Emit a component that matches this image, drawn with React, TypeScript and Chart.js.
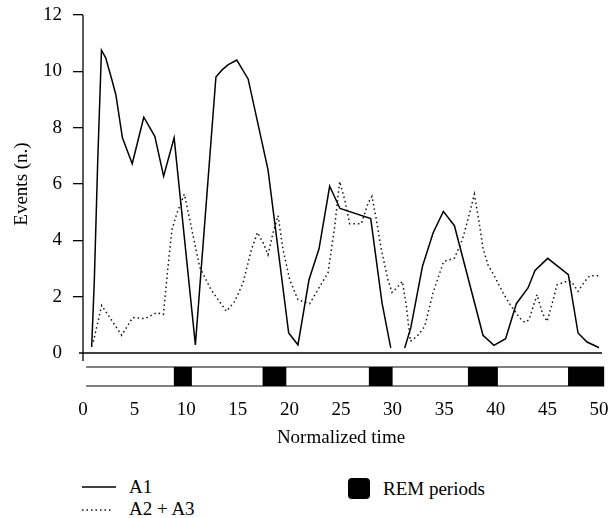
import React, { useEffect, useRef } from "react";
import { Chart, registerables } from "chart.js";

Chart.register(...registerables);

// ---- Data ----
const a1X = [0.84, 1.1, 1.42, 1.79, 2.2, 2.79, 3.18, 3.82, 4.77, 5.89, 6.96, 7.81, 8.83, 10.89, 12.88, 13.5, 14.08, 14.9, 16.0, 17.93, 19.93, 20.83, 21.9, 22.87, 23.9, 24.9, 27.88, 28.98, 29.82, 30.5, 31.17, 31.76, 32.89, 33.92, 34.92, 35.99, 38.76, 39.82, 40.95, 41.99, 43.12, 43.8, 45.03, 47.03, 47.97, 48.84, 50.07];
const a1Y: (number | null)[] = [0.21, 2.6, 6.74, 10.75, 10.48, 9.71, 9.18, 7.64, 6.72, 8.37, 7.69, 6.28, 7.64, 0.29, 9.8, 10.06, 10.24, 10.4, 9.73, 6.5, 0.71, 0.29, 2.6, 3.7, 5.92, 5.13, 4.77, 1.77, 0.18, null, 0.18, 0.89, 3.07, 4.26, 5.03, 4.52, 0.63, 0.27, 0.51, 1.75, 2.31, 2.93, 3.36, 2.78, 0.71, 0.39, 0.18];

const a23X = [1.0, 1.81, 3.75, 4.82, 5.98, 7.14, 7.79, 8.24, 8.62, 9.11, 9.82, 11.31, 12.4, 13.9, 14.7, 15.5, 16.32, 16.9, 17.5, 17.93, 18.41, 18.9, 19.38, 20.03, 20.83, 21.97, 22.94, 23.74, 24.39, 24.87, 25.36, 25.84, 26.97, 27.62, 28.0, 28.43, 28.91, 29.55, 29.94, 30.52, 30.95, 31.34, 31.72, 32.36, 33.11, 33.91, 34.95, 36.0, 36.76, 37.47, 37.92, 38.37, 38.76, 39.24, 39.89, 40.7, 41.51, 42.32, 42.8, 43.22, 43.99, 44.51, 44.96, 45.39, 45.93, 46.84, 47.33, 47.97, 48.61, 49.1, 50.07];
const a23Y = [0.4, 1.69, 0.63, 1.26, 1.22, 1.43, 1.37, 3.07, 4.38, 4.97, 5.64, 3.05, 2.25, 1.48, 1.83, 2.48, 3.67, 4.28, 3.88, 3.49, 4.26, 4.88, 3.67, 2.6, 1.89, 1.75, 2.36, 2.84, 4.49, 6.09, 5.44, 4.59, 4.59, 5.32, 5.56, 4.73, 3.67, 2.6, 2.15, 2.36, 2.54, 1.65, 0.41, 0.59, 0.94, 2.13, 3.25, 3.37, 4.02, 4.97, 5.64, 4.67, 3.73, 3.13, 2.72, 2.13, 1.65, 1.24, 1.09, 1.18, 2.07, 1.42, 1.12, 1.65, 2.42, 2.54, 2.54, 2.19, 2.54, 2.74, 2.74];

const remStart = [8.8, 17.4, 27.7, 37.3, 47.0];
const remEnd = [10.55, 19.7, 30.0, 40.2, 50.5];
const remTrack = [0.3, 50.5];

const xRange = [0, 50];
const xStep = 5;
const yRange = [0, 12];
const yStep = 2;

const seriesLabels = ["A1", "A2 + A3"];
const remLabel = "REM periods";
const xTitle = "Normalized time";
const yTitle = "Events (n.)";

const FONT_FAMILY = "'Liberation Serif', 'DejaVu Serif', serif";
const FONT_SIZE = 19;

const toPoints = (xs: number[], ys: (number | null)[]) =>
  xs.map((x, i) => ({ x, y: ys[i] }));

const axesPlugin = {
  id: "axesAndRem",
  afterDraw(chart: any) {
    const { ctx, chartArea } = chart;
    const xs = chart.scales.x;
    const ys = chart.scales.y;
    const y0 = ys.getPixelForValue(0);
    ctx.save();
    ctx.strokeStyle = "#000";
    ctx.lineWidth = 1.3;
    // y axis line
    ctx.beginPath();
    ctx.moveTo(chartArea.left, ys.getPixelForValue(yRange[1]));
    ctx.lineTo(chartArea.left, y0 + 8);
    ctx.stroke();
    // x axis line
    ctx.beginPath();
    ctx.moveTo(chartArea.left - 4, y0);
    ctx.lineTo(chartArea.right + 3, y0);
    ctx.stroke();
    // REM track
    const top = y0 + 14;
    const bottom = y0 + 33;
    const tx0 = xs.getPixelForValue(remTrack[0]);
    const tx1 = xs.getPixelForValue(remTrack[1]);
    ctx.lineWidth = 1.2;
    ctx.beginPath();
    ctx.moveTo(tx0, top);
    ctx.lineTo(tx1, top);
    ctx.moveTo(tx0, bottom);
    ctx.lineTo(tx1, bottom);
    ctx.stroke();
    ctx.fillStyle = "#000";
    remStart.forEach((s, i) => {
      const a = xs.getPixelForValue(s);
      const b = xs.getPixelForValue(remEnd[i]);
      ctx.fillRect(a, top, b - a, bottom - top);
    });
    ctx.restore();
  },
};

export default function App() {
  const canvasRef = useRef<HTMLCanvasElement | null>(null);

  useEffect(() => {
    document.body.style.margin = "0";
    const canvas = canvasRef.current;
    if (!canvas) return;
    const font = { family: FONT_FAMILY, size: FONT_SIZE };
    const chart = new Chart(canvas, {
      type: "line",
      data: {
        datasets: [
          {
            label: seriesLabels[0],
            data: toPoints(a1X, a1Y) as any,
            borderColor: "#000",
            borderWidth: 1.5,
            pointRadius: 0,
            tension: 0,
            spanGaps: false,
            fill: false,
          },
          {
            label: seriesLabels[1],
            data: toPoints(a23X, a23Y) as any,
            borderColor: "#111",
            borderWidth: 1.5,
            borderDash: [1.5, 3],
            pointRadius: 0,
            tension: 0,
            fill: false,
          },
        ],
      },
      options: {
        responsive: false,
        animation: false,
        layout: { padding: { top: 15, right: 14, left: 0, bottom: 0 } },
        plugins: {
          legend: { display: false },
          tooltip: { enabled: false },
        },
        scales: {
          x: {
            type: "linear",
            min: xRange[0],
            max: xRange[1],
            ticks: { stepSize: xStep, padding: 45.5, color: "#000", font, maxRotation: 0, autoSkip: false },
            grid: { display: false, drawTicks: false },
            border: { display: false },
            title: {
              display: true,
              text: xTitle,
              color: "#000",
              font,
              padding: { top: 4, bottom: 10.6 },
            },
            afterFit: (s: any) => {
              s.height = 107;
              s.paddingLeft = 0;
              s.paddingRight = 0;
            },
          },
          y: {
            type: "linear",
            min: yRange[0],
            max: yRange[1],
            ticks: { stepSize: yStep, padding: 11, color: "#000", font },
            grid: {
              drawOnChartArea: false,
              drawTicks: true,
              tickLength: 10,
              lineWidth: 1.3,
              color: "#000",
              tickColor: (c: any) => (c.tick && c.tick.value === 0 ? "rgba(0,0,0,0)" : "#000"),
            },
            border: { display: false },
            title: {
              display: true,
              text: yTitle,
              color: "#000",
              font,
              padding: { top: 10.6, bottom: 0 },
            },
            afterFit: (s: any) => {
              s.width = 83;
              s.paddingTop = 0;
              s.paddingBottom = 0;
            },
          },
        },
      } as any,
      plugins: [axesPlugin],
    });
    return () => chart.destroy();
  }, []);

  const textStyle: React.CSSProperties = {
    position: "absolute",
    fontFamily: FONT_FAMILY,
    fontSize: FONT_SIZE,
    lineHeight: "22px",
    color: "#000",
    whiteSpace: "nowrap",
  };

  return (
    <div style={{ position: "relative", width: 613, height: 518, background: "#fff", overflow: "hidden" }}>
      <canvas ref={canvasRef} width={613} height={460} style={{ display: "block" }} />
      <svg style={{ position: "absolute", left: 82, top: 480 }} width={36} height={14}>
        <line x1={0} y1={7} x2={34} y2={7} stroke="#000" strokeWidth={1.5} />
      </svg>
      <div style={{ ...textStyle, left: 129, top: 476 }}>{seriesLabels[0]}</div>
      <svg style={{ position: "absolute", left: 82, top: 503 }} width={36} height={14}>
        <line x1={0} y1={7} x2={31} y2={7} stroke="#111" strokeWidth={1.5} strokeDasharray="1.5 3" />
      </svg>
      <div style={{ ...textStyle, left: 129, top: 498 }}>{seriesLabels[1]}</div>
      <div
        style={{
          position: "absolute",
          left: 348,
          top: 478,
          width: 22,
          height: 21,
          borderRadius: 4,
          background: "#000",
        }}
      />
      <div style={{ ...textStyle, left: 383, top: 478 }}>{remLabel}</div>
    </div>
  );
}
